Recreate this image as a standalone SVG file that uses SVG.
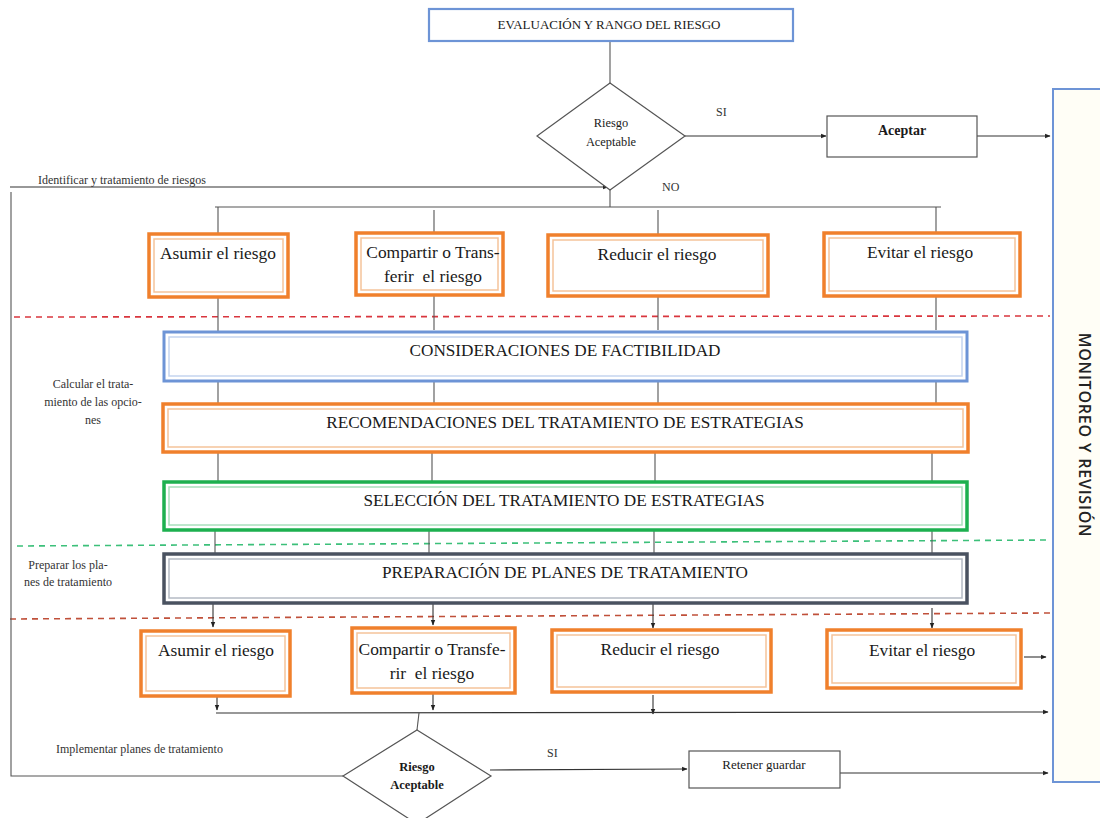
<svg xmlns="http://www.w3.org/2000/svg" width="1100" height="818" viewBox="0 0 1100 818">
  <defs>
    <marker id="arr" viewBox="0 0 10 10" refX="9" refY="5" markerWidth="5" markerHeight="5" orient="auto">
      <path d="M0,1 L10,5 L0,9 z" fill="#222"/>
    </marker>
    <style>
      .t { fill: #1a1a1a; text-anchor: middle; }
      .lbl { fill: #333; font-size: 12px; }
      .ln { fill: none; stroke: #555; stroke-width: 1.1; }
      .lna { fill: none; stroke: #333; stroke-width: 1.1; marker-end: url(#arr); }
      .plain { fill: #fff; stroke: #555; stroke-width: 1.2; }
      .oOut { fill: #fff; stroke: #f0802c; stroke-width: 3.5; }
      .oIn { fill: none; stroke: #f5c39a; stroke-width: 1.5; }
      .bOut { fill: #fff; stroke: #6d94d6; stroke-width: 3; }
      .bIn { fill: none; stroke: #c5d5ef; stroke-width: 1.5; }
      .gOut { fill: #fff; stroke: #1db04f; stroke-width: 3.5; }
      .gIn { fill: none; stroke: #a8e0bc; stroke-width: 1.5; }
      .sOut { fill: #fff; stroke: #4a5260; stroke-width: 3.5; }
      .sIn { fill: none; stroke: #b4bac4; stroke-width: 1.5; }
      .big { font-size: 17.4px; }
      .cap { font-size: 17.2px; }
    </style>
  </defs>

  <g font-family="Liberation Serif, Times New Roman, DejaVu Serif, serif">

  <!-- phase separators -->
  <g id="separators" fill="none" stroke-width="1.6" stroke-dasharray="6,5">
    <line x1="14" y1="317" x2="1050" y2="316" stroke="#d9363e"/>
    <line x1="17" y1="546" x2="1050" y2="540" stroke="#3cc07a"/>
    <line x1="10" y1="619" x2="1050" y2="613" stroke="#c0503a"/>
  </g>

  <!-- monitoring side panel -->
  <g id="monitoreo">
    <rect x="1053" y="89" width="60" height="693" fill="#fffef6" stroke="#6d94d6" stroke-width="2"/>
    <text transform="translate(1079,435) rotate(90)" font-family="Open Sans, DejaVu Sans, sans-serif" font-size="16" font-weight="600" fill="#222" text-anchor="middle" letter-spacing="0.8">MONITOREO Y REVISIÓN</text>
  </g>

  <!-- connectors -->
  <g id="connectors">
    <line class="ln" x1="610" y1="41" x2="610" y2="83"/>
    <line class="lna" x1="685" y1="136" x2="826" y2="136"/>
    <line class="lna" x1="977" y1="136" x2="1050" y2="136"/>
    <!-- loop back from lower decision -->
    <polyline class="ln" points="343,776 11,776 11,192"/>
    <line class="lna" x1="10" y1="187" x2="608" y2="187"/>
    <line class="ln" x1="610" y1="190" x2="610" y2="207"/>
    <line class="ln" x1="215" y1="207" x2="941" y2="207"/>
    <line class="ln" x1="218" y1="207" x2="218" y2="233"/>
    <line class="ln" x1="434" y1="210" x2="434" y2="232"/>
    <line class="ln" x1="658" y1="210" x2="658" y2="234"/>
    <line class="ln" x1="936" y1="207" x2="936" y2="232"/>
    <!-- strategy columns -->
    <line class="ln" x1="218" y1="298" x2="218" y2="332"/>
    <line class="ln" x1="434" y1="296" x2="434" y2="330"/>
    <line class="ln" x1="658" y1="297" x2="658" y2="330"/>
    <line class="ln" x1="936" y1="297" x2="936" y2="330"/>
    <line class="ln" x1="218" y1="372" x2="218" y2="405"/>
    <line class="ln" x1="434" y1="380" x2="434" y2="405"/>
    <line class="ln" x1="658" y1="380" x2="658" y2="405"/>
    <line class="ln" x1="936" y1="380" x2="936" y2="405"/>
    <line class="ln" x1="218" y1="452" x2="218" y2="486"/>
    <line class="ln" x1="432" y1="452" x2="432" y2="483"/>
    <line class="ln" x1="655" y1="450" x2="655" y2="483"/>
    <line class="ln" x1="932" y1="450" x2="932" y2="487"/>
    <line class="ln" x1="215" y1="525" x2="215" y2="556"/>
    <line class="ln" x1="429" y1="524" x2="429" y2="553"/>
    <line class="ln" x1="654" y1="524" x2="654" y2="553"/>
    <line class="ln" x1="932" y1="524" x2="932" y2="553"/>
    <line class="lna" x1="213" y1="602" x2="213" y2="627"/>
    <line class="lna" x1="433" y1="602" x2="433" y2="625"/>
    <line class="lna" x1="653" y1="604" x2="653" y2="628"/>
    <line class="lna" x1="932" y1="608" x2="932" y2="628"/>
    <!-- implementation outputs -->
    <line class="lna" x1="217" y1="697" x2="217" y2="710"/>
    <line class="lna" x1="433" y1="694" x2="433" y2="710"/>
    <line class="lna" x1="653" y1="695" x2="653" y2="714"/>
    <line class="lna" x1="1024" y1="657" x2="1046" y2="657"/>
    <line class="lna" x1="216" y1="713" x2="1048" y2="712"/>
    <line class="ln" x1="419" y1="713" x2="417" y2="730"/>
    <line class="lna" x1="490" y1="770" x2="687" y2="769"/>
    <line class="lna" x1="840" y1="773" x2="1048" y2="773"/>
  </g>

  <!-- side labels -->
  <g id="labels">
    <text class="lbl" x="38" y="184">Identificar y tratamiento de riesgos</text>
    <text class="lbl" x="716" y="116" font-size="11">SI</text>
    <text class="lbl" x="662" y="191" font-size="11">NO</text>
    <text class="lbl" x="93" y="388" text-anchor="middle" font-size="12.6">Calcular el trata-</text>
    <text class="lbl" x="93" y="406" text-anchor="middle" font-size="12.6">miento de las opcio-</text>
    <text class="lbl" x="93" y="424" text-anchor="middle" font-size="12.6">nes</text>
    <text class="lbl" x="68" y="569" text-anchor="middle">Preparar los pla-</text>
    <text class="lbl" x="68" y="586" text-anchor="middle">nes de tratamiento</text>
    <text class="lbl" x="56" y="753">Implementar planes de tratamiento</text>
    <text class="lbl" x="547" y="757" font-size="11">SI</text>
  </g>

  <g id="evaluacion">
    <rect x="429" y="9" width="364" height="32" fill="#fff" stroke="#6d94d6" stroke-width="2.2"/>
    <text class="t" x="609" y="29" font-size="13">EVALUACIÓN Y RANGO DEL RIESGO</text>
  </g>

  <g id="decision1">
    <polygon points="610,83 685,136 610,190 537,136" fill="#fff" stroke="#555" stroke-width="1.2"/>
    <text class="t" x="611" y="127" font-size="12.4">Riesgo</text>
    <text class="t" x="611" y="146" font-size="12.4">Aceptable</text>
  </g>

  <g id="aceptar">
    <rect class="plain" x="827" y="116" width="150" height="41"/>
    <text class="t" x="902" y="135" font-size="14" font-weight="bold">Aceptar</text>
  </g>

  <!-- treatment options -->
  <g id="asumir1">
    <rect class="oOut" x="149" y="234" width="139" height="63"/>
    <rect class="oIn" x="154" y="239" width="129" height="53"/>
    <text class="t big" x="218" y="259">Asumir el riesgo</text>
  </g>
  <g id="compartir1">
    <rect class="oOut" x="356" y="233" width="147" height="62"/>
    <rect class="oIn" x="361" y="238" width="137" height="52"/>
    <text class="t big" x="433" y="258">Compartir o Trans-</text>
    <text class="t big" x="433" y="282" xml:space="preserve">ferir  el riesgo</text>
  </g>
  <g id="reducir1">
    <rect class="oOut" x="548" y="235" width="220" height="61"/>
    <rect class="oIn" x="553" y="240" width="210" height="51"/>
    <text class="t big" x="657" y="260">Reducir el riesgo</text>
  </g>
  <g id="evitar1">
    <rect class="oOut" x="824" y="233" width="196" height="63"/>
    <rect class="oIn" x="829" y="238" width="186" height="53"/>
    <text class="t big" x="920" y="258">Evitar el riesgo</text>
  </g>

  <!-- treatment stages -->
  <g id="factibilidad">
    <rect class="bOut" x="164" y="332" width="803" height="49"/>
    <rect class="bIn" x="169" y="337" width="793" height="39"/>
    <text class="t cap" x="565" y="356">CONSIDERACIONES DE FACTIBILIDAD</text>
  </g>
  <g id="recomendaciones">
    <rect class="oOut" x="163" y="404" width="805" height="48"/>
    <rect class="oIn" x="168" y="409" width="795" height="38"/>
    <text class="t cap" x="565" y="428">RECOMENDACIONES DEL TRATAMIENTO DE ESTRATEGIAS</text>
  </g>
  <g id="seleccion">
    <rect class="gOut" x="164" y="482" width="803" height="48"/>
    <rect class="gIn" x="169" y="487" width="793" height="38"/>
    <text class="t cap" x="564" y="506">SELECCIÓN DEL TRATAMIENTO DE ESTRATEGIAS</text>
  </g>
  <g id="preparacion">
    <rect class="sOut" x="164" y="554" width="803" height="49"/>
    <rect class="sIn" x="169" y="559" width="793" height="39"/>
    <text class="t cap" x="565" y="578">PREPARACIÓN DE PLANES DE TRATAMIENTO</text>
  </g>

  <!-- implementation options -->
  <g id="asumir2">
    <rect class="oOut" x="141" y="631" width="149" height="65"/>
    <rect class="oIn" x="146" y="636" width="139" height="55"/>
    <text class="t big" x="216" y="656">Asumir el riesgo</text>
  </g>
  <g id="compartir2">
    <rect class="oOut" x="352" y="628" width="163" height="65"/>
    <rect class="oIn" x="357" y="633" width="153" height="55"/>
    <text class="t big" x="432" y="655">Compartir o Transfe-</text>
    <text class="t big" x="432" y="679" xml:space="preserve">rir  el riesgo</text>
  </g>
  <g id="reducir2">
    <rect class="oOut" x="552" y="630" width="219" height="62"/>
    <rect class="oIn" x="557" y="635" width="209" height="52"/>
    <text class="t big" x="660" y="655">Reducir el riesgo</text>
  </g>
  <g id="evitar2">
    <rect class="oOut" x="827" y="630" width="194" height="58"/>
    <rect class="oIn" x="832" y="635" width="184" height="48"/>
    <text class="t big" x="922" y="656">Evitar el riesgo</text>
  </g>

  <g id="decision2">
    <polygon points="417,730 491,776 417,824 343,776" fill="#fff" stroke="#555" stroke-width="1.2"/>
    <text class="t" x="417" y="771" font-size="12.5" font-weight="bold">Riesgo</text>
    <text class="t" x="417" y="789" font-size="12.5" font-weight="bold">Aceptable</text>
  </g>

  <g id="retener">
    <rect class="plain" x="689" y="751" width="151" height="37"/>
    <text class="t" x="764" y="769" font-size="13">Retener guardar</text>
  </g>

  </g>
</svg>
